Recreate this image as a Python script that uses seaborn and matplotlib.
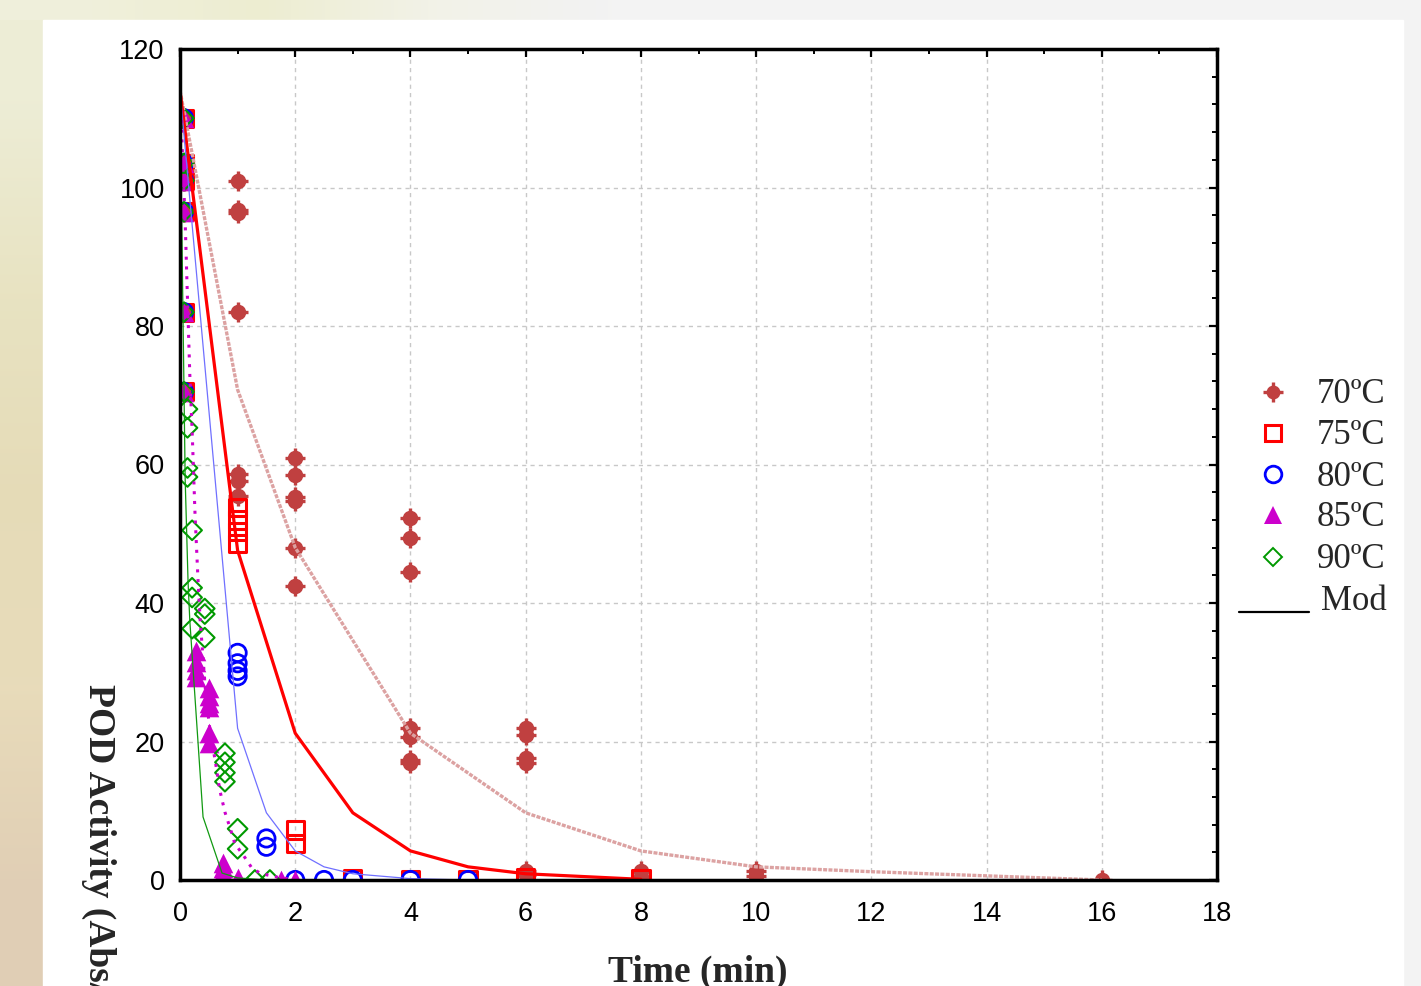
import numpy as np
import pandas as pd
import matplotlib
matplotlib.use("Agg")
import matplotlib.pyplot as plt
from matplotlib.lines import Line2D
from matplotlib.patches import Rectangle
from matplotlib.ticker import MultipleLocator
import seaborn as sns

# ---- experimental points (time in min, POD activity) ----
t_start = 0.07
start_vals = [110, 103.5, 101, 96.5, 82, 70.5]

t70 = [t_start] * 6 + [1] * 7 + [2] * 6 + [4] * 7 + [6] * 6 + [8, 8, 10, 10, 16]
y70 = (start_vals
       + [101, 96.8, 96.3, 82, 58.7, 57.6, 55.5]
       + [61, 58.5, 55.3, 54.8, 48, 42.5]
       + [52.3, 49.4, 44.5, 21.9, 20.6, 17.3, 16.9]
       + [21.9, 20.9, 17.6, 16.9, 1.3, 0.7]
       + [1.3, 0.5, 1.3, 0.6, 0])

t75 = [t_start] * 6 + [1] * 4 + [2, 2, 3, 4, 5, 6, 8]
y75 = start_vals + [53.8, 52.0, 50.3, 48.6] + [7.2, 5.3, 0.2, 0, 0, 0.3, 0.2]

t80 = [t_start] * 6 + [1] * 4 + [1.5, 1.5, 2, 2.5, 3, 4, 5]
y80 = start_vals + [32.8, 31.3, 30.2, 29.4] + [6.0, 4.8, 0, 0, 0, 0, 0]

t85 = [t_start] * 6 + [0.27] * 4 + [0.5] * 6 + [0.75] * 4 + [1, 1.75, 2]
y85 = (start_vals + [33, 31.5, 30.3, 29.3]
       + [27.7, 26.5, 25.5, 25, 21.2, 19.8]
       + [2.5, 1.8, 1.2, 0.7] + [0.3, 0, 0])

t90 = [t_start] * 6 + [0.13] * 4 + [0.21] * 4 + [0.43] * 3 + [0.78] * 4 + [1, 1, 1.3, 1.56]
y90 = (start_vals + [68, 65.3, 59.5, 58.2]
       + [50.5, 42.2, 40.8, 36.3]
       + [39.2, 38.4, 35]
       + [18.3, 17, 15.5, 14.2]
       + [7.4, 4.5, 0, 0])

# ---- model curves ----
m70_t = [0, 1, 2, 4, 6, 8, 10, 12, 14, 16]
m70_y = [114, 70.8, 48, 21.2, 9.7, 4.2, 1.9, 1.2, 0.6, 0]
m75_t = [0, 1, 2, 3, 4, 5, 6, 8]
m75_y = [114, 47.6, 21.2, 9.7, 4.2, 1.9, 0.9, 0.1]
m80_t = [0, 1, 1.5, 2, 2.5, 3, 4, 5]
m80_y = [114, 21.9, 9.7, 4.2, 1.9, 0.9, 0.2, 0]
m85_t = [0, 0.09, 0.12, 0.17, 0.21, 0.26, 0.31, 0.35, 0.45, 0.53, 0.61, 0.69,
         0.78, 0.87, 0.95, 1.13, 1.25, 1.39, 1.53, 1.75, 2.0]
m85_y = [114, 95, 86.6, 73, 65, 53, 43.8, 37.5, 26.5, 21, 17.3, 13,
         9.8, 7.5, 5.3, 3.2, 1.7, 1.0, 0.7, 0.3, 0.1]
m90_t = [0, 0.09, 0.14, 0.17, 0.4, 0.73, 1.0, 1.5]
m90_y = [114, 57.8, 43, 37.5, 9.1, 1.0, 0.3, 0]

labels = ["70ºC", "75ºC", "80ºC", "85ºC", "90ºC"]
c70, c75, c80, c85, c90 = "#c04040", "#ff0000", "#0000ff", "#cc00cc", "#009900"

sns.set_style("white")
plt.rcParams["font.family"] = ["Liberation Sans", "DejaVu Sans"]

W, H = 1421, 986
fig = plt.figure(figsize=(W / 100, H / 100), dpi=100, facecolor="#f3f3f3")


def fx(px):
    return px / W


def fy(py):
    return 1 - py / H


# background: slide-like frame around a white panel
bg = fig.add_axes([0, 0, 1, 1], zorder=-5)
bg.set_axis_off()
bg.patch.set_alpha(0)
left_grad = np.array([[0.93, 0.93, 0.84], [0.91, 0.89, 0.76], [0.90, 0.86, 0.72],
                      [0.91, 0.86, 0.73], [0.88, 0.81, 0.71]])[:, None, :]
bg.imshow(left_grad, extent=[0, 43, H, 0], aspect="auto", interpolation="bilinear")
top_grad = np.array([[0.94, 0.94, 0.86], [0.93, 0.93, 0.82],
                     [0.95, 0.95, 0.91], [0.953, 0.953, 0.953]])[None, :, :]
bg.imshow(top_grad, extent=[0, 700, 20, 0], aspect="auto", interpolation="bilinear")
bg.add_patch(Rectangle((43, 20), 1360, H - 20, color="white", zorder=2))
bg.set_xlim(0, W)
bg.set_ylim(H, 0)

ax = fig.add_axes([fx(180), fy(880), fx(1217) - fx(180), fy(49) - fy(880)])
ax.set_facecolor("white")

# burst-like marker for 70ºC: dot + plus
sns.scatterplot(x=t70, y=y70, marker="o", s=125, color=c70, edgecolor=c70, linewidth=0, ax=ax)
sns.scatterplot(x=t70, y=y70, marker="+", s=220, color=c70, linewidth=2.4, ax=ax)
sns.scatterplot(x=t75, y=y75, marker="s", s=155, color=c75, facecolor="none",
                edgecolor=c75, linewidth=2.2, ax=ax)
sns.scatterplot(x=t80, y=y80, marker="o", s=155, color=c80, facecolor="none",
                edgecolor=c80, linewidth=2.0, ax=ax)
sns.scatterplot(x=t85, y=y85, marker="^", s=200, color=c85, edgecolor=c85, linewidth=0, ax=ax)
sns.scatterplot(x=t90, y=y90, marker="D", s=100, color=c90, facecolor="none",
                edgecolor=c90, linewidth=1.5, ax=ax)

sns.lineplot(x=m70_t, y=m70_y, estimator=None, sort=False, color="#dca2a2", lw=2.4,
             linestyle=(0, (1.2, 0.4)), ax=ax)
sns.lineplot(x=m75_t, y=m75_y, estimator=None, sort=False, color=c75, lw=2.3, ax=ax)
sns.lineplot(x=m80_t, y=m80_y, estimator=None, sort=False, color="#7070ff", lw=0.9, ax=ax)
sns.lineplot(x=m85_t, y=m85_y, estimator=None, sort=False, color=c85, lw=2.2,
             linestyle=(0, (1, 2.2)), ax=ax)
sns.lineplot(x=m90_t, y=m90_y, estimator=None, sort=False, color="#119911", lw=0.9, ax=ax)

ax.set_xlim(0, 18)
ax.set_ylim(0, 120)
ax.set_xticks(np.arange(0, 19, 2))
ax.set_yticks(np.arange(0, 121, 20))
ax.xaxis.set_minor_locator(MultipleLocator(1))
ax.yaxis.set_minor_locator(MultipleLocator(4))
ax.set_axisbelow(True)
ax.grid(True, which="major", color="#c8c8c8", linestyle=(0, (3, 3)), linewidth=1)
for sp in ax.spines.values():
    sp.set_linewidth(2.5)
    sp.set_color("black")
    sp.set_zorder(5)
ax.tick_params(which="both", direction="in", top=True, right=True, colors="black")
ax.tick_params(which="major", length=6, width=1.6, labelsize=19.5)
ax.tick_params(axis="x", which="major", pad=15)
ax.tick_params(axis="y", which="major", pad=11)
ax.tick_params(which="minor", length=3.5, width=1.4)
ax.set_xlabel("")
ax.set_ylabel("")

serif = ["Liberation Serif", "DejaVu Serif"]
fig.text(fx(698), fy(972), "Time (min)", ha="center", va="center",
         fontsize=27, fontweight="bold", family=serif)
fig.text(fx(99), fy(684), "POD Activity (Abs/(min·g))", ha="center", va="top",
         rotation=270, fontsize=27, fontweight="bold", family=serif)

# legend, drawn by hand at the right of the plot
leg_x = 1273
leg_rows = [392, 433, 474, 515, 557]
leg_styles = [
    dict(marker="o", markersize=10, color=c70, markeredgewidth=0),
    dict(marker="s", markersize=11.5, color=c75, markerfacecolor="none", markeredgewidth=2.2),
    dict(marker="o", markersize=12, color=c80, markerfacecolor="none", markeredgewidth=2.0),
    dict(marker="^", markersize=13.5, color=c85, markeredgewidth=0),
    dict(marker="D", markersize=9, color=c90, markerfacecolor="none", markeredgewidth=1.4),
]
for row, lab, st in zip(leg_rows, labels, leg_styles):
    fig.add_artist(Line2D([fx(leg_x)], [fy(row)], linestyle="none",
                          transform=fig.transFigure, **st))
    fig.text(fx(1317), fy(row + 3), lab, ha="left", va="center", fontsize=25, family=serif)
fig.add_artist(Line2D([fx(leg_x)], [fy(leg_rows[0])], linestyle="none", marker="+",
                      markersize=14, markeredgewidth=2.4, color=c70,
                      transform=fig.transFigure))
fig.add_artist(Line2D([fx(1239), fx(1309)], [fy(612), fy(612)], color="black",
                      lw=1.6, transform=fig.transFigure))
fig.text(fx(1321), fy(601), "Mod", ha="left", va="center", fontsize=25, family=serif)

fig.savefig("out.png", dpi=100, facecolor=fig.get_facecolor())
